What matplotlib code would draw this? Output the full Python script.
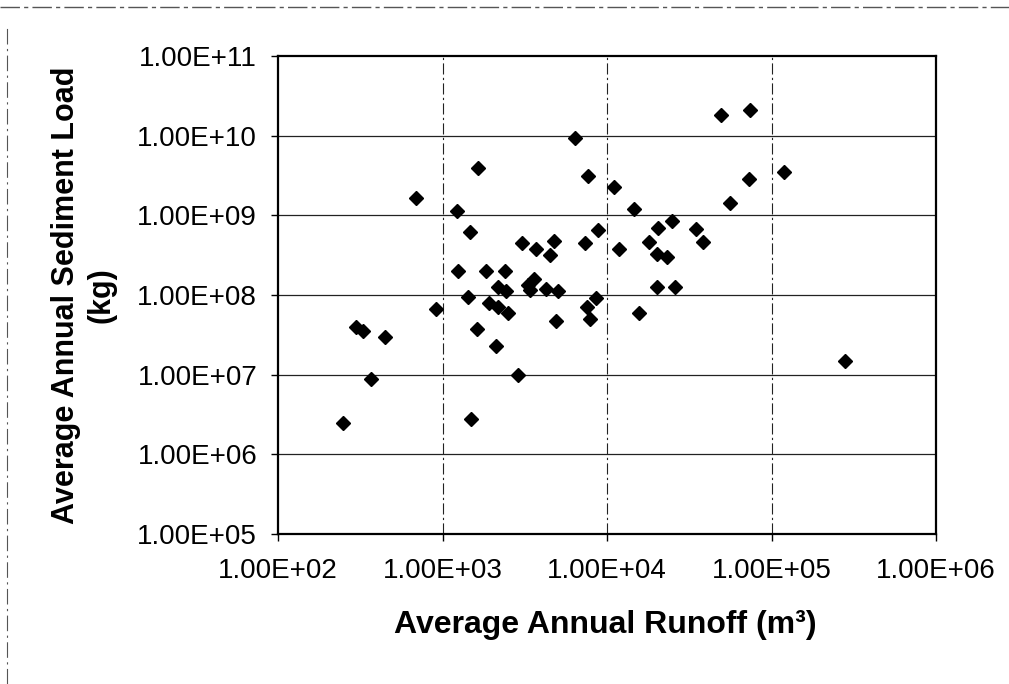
import numpy as np
import matplotlib
matplotlib.use('Agg')
import matplotlib.pyplot as plt
from matplotlib.ticker import FixedLocator, FuncFormatter, NullLocator
from matplotlib.lines import Line2D

plt.rcParams['font.family'] = ['Liberation Sans', 'DejaVu Sans']

# average annual runoff (m3) and sediment load (kg) per catchment
runoff = [250, 300, 330, 370, 450, 690, 910, 1230, 1240, 1460,
          1430, 1640, 1630, 1480, 1830, 1930, 2100, 2180, 2170, 2410,
          2430, 2510, 2880, 3040, 3310, 3400, 3580, 3720, 4250, 4530,
          4760, 5050, 4880, 6350, 7300, 7640, 7530, 7890, 8630, 8810,
          11000, 11800, 14500, 15600, 17900, 20100, 20500, 20000, 23200, 24900,
          25800, 35000, 38500, 49200, 56200, 73500, 73100, 118300, 278600]
sediment = [2.5e6, 4.0e7, 3.5e7, 8.8e6, 3.0e7, 1.65e9, 6.6e7, 1.12e9, 2.0e8, 6.25e8,
            9.5e7, 3.9e9, 3.7e7, 2.8e6, 2.0e8, 8.0e7, 2.3e7, 1.27e8, 7.1e7, 2.0e8,
            1.12e8, 6.0e7, 1.0e7, 4.5e8, 1.33e8, 1.16e8, 1.58e8, 3.74e8, 1.19e8, 3.16e8,
            4.75e8, 1.12e8, 4.7e7, 9.35e9, 4.52e8, 3.13e9, 7.1e7, 4.97e7, 9.1e7, 6.5e8,
            2.24e9, 3.76e8, 1.19e9, 5.97e7, 4.69e8, 3.3e8, 6.98e8, 1.27e8, 2.97e8, 8.43e8,
            1.27e8, 6.7e8, 4.69e8, 1.81e10, 1.41e9, 2.09e10, 2.82e9, 3.48e9, 1.48e7]

xticks = [1e2, 1e3, 1e4, 1e5, 1e6]
yticks = [1e5, 1e6, 1e7, 1e8, 1e9, 1e10, 1e11]

W, H = 1009, 684
fig = plt.figure(figsize=(W / 100, H / 100), dpi=100)
ax = fig.add_axes([278 / W, 1 - 534 / H, (936 - 278) / W, (534 - 56) / H])

ax.set_xscale('log')
ax.set_yscale('log')
ax.set_xlim(xticks[0], xticks[-1])
ax.set_ylim(yticks[0], yticks[-1])

ax.xaxis.set_major_locator(FixedLocator(xticks))
ax.yaxis.set_major_locator(FixedLocator(yticks))
ax.xaxis.set_minor_locator(NullLocator())
ax.yaxis.set_minor_locator(NullLocator())
sci = FuncFormatter(lambda v, pos: '%.2E' % v)
ax.xaxis.set_major_formatter(sci)
ax.yaxis.set_major_formatter(sci)

# gridlines: solid horizontal, dash-dot vertical
for y in yticks[1:-1]:
    ax.axhline(y, color='#222222', lw=0.9, zorder=1)
for x in xticks[1:-1]:
    ax.axvline(x, color='#222222', lw=0.8, dashes=(10, 3, 2, 3), zorder=1)

ax.plot(runoff, sediment, linestyle='none', marker='D', markersize=7.4,
        color='black', zorder=3)

for s in ax.spines.values():
    s.set_linewidth(1.6)
ax.tick_params(axis='both', which='major', direction='out', length=5,
               width=1.0, labelsize=20, colors='black')
ax.tick_params(axis='x', pad=12)
ax.tick_params(axis='y', pad=10)

fig.text(605 / W, 1 - 625 / H, 'Average Annual Runoff (m³)', ha='center',
         va='center', fontsize=23, fontweight='bold')
fig.text(84 / W, 1 - 295 / H, 'Average Annual Sediment Load\n(kg)', rotation=90,
         ha='center', va='center', multialignment='center', fontsize=22,
         fontweight='bold', linespacing=1.25)

# scanned frame edges
fig.add_artist(Line2D([0, 1], [1 - 7 / H, 1 - 7 / H], transform=fig.transFigure,
                      color='#555555', lw=1.0, dashes=(14, 3, 3, 3)))
fig.add_artist(Line2D([7 / W, 7 / W], [0, 1 - 25 / H], transform=fig.transFigure,
                      color='#555555', lw=0.8, dashes=(14, 4, 2, 4)))

fig.savefig('out.png', dpi=100)
